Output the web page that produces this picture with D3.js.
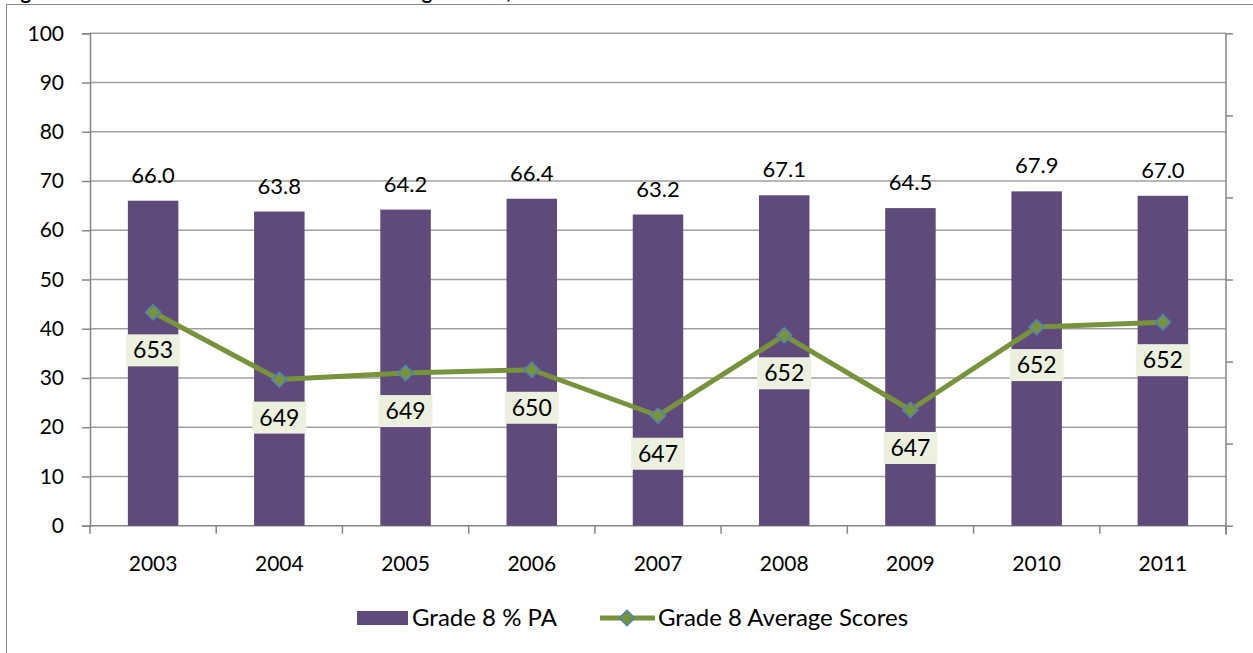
<!DOCTYPE html>
<html>
<head>
<meta charset="utf-8">
<script src="https://cdn.jsdelivr.net/npm/d3@7"></script>
<style>
  body { margin: 0; background: #fff; }
  svg { display: block; font-family: Lato, "Open Sans", sans-serif; }
</style>
</head>
<body>
<svg></svg>
<script>
var years = ["2003","2004","2005","2006","2007","2008","2009","2010","2011"];
var pctPA = [66.0, 63.8, 64.2, 66.4, 63.2, 67.1, 64.5, 67.9, 67.0];
var avgScores = [653.0, 648.9, 649.3, 649.5, 646.7, 651.6, 647.05, 652.1, 652.4];
var leftTicks = [0,10,20,30,40,50,60,70,80,90,100];
var rightTicks = [640,645,650,655,660,665,670];
var seriesNames = ["Grade 8 % PA", "Grade 8 Average Scores"];

start();

function start(){
  var width = 1253;
  var height = 653;

  var svg = d3.select("svg")
              .attr("width", width)
              .attr("height", height);

  var left = 90, right = 1226, top = 33.3, bottom = 525.7;

  // outer frame, partly off the picture
  svg.append("rect")
     .attr("x", 6.5).attr("y", 4.5)
     .attr("width", 1400).attr("height", 800)
     .attr("fill", "none")
     .attr("stroke", "#868686");

  // title, only its lowest strip shows above the frame
  svg.append("text")
     .attr("x", 4).attr("y", -1)
     .attr("font-weight", "bold")
     .attr("font-size", 20)
     .attr("fill", "#000")
     .text("Figure 9: Grade 8 Mathematics % PA and Average Scores, 2003-2011");

  var x = d3.scaleBand()
            .domain(years)
            .range([left, right])
            .paddingInner(0.6)
            .paddingOuter(0.3);

  var y = d3.scaleLinear().domain([0,100]).range([bottom, top]);
  var y2 = d3.scaleLinear().domain([640,670]).range([bottom, top]);

  // gridlines
  svg.append("g").selectAll("line")
     .data(leftTicks.slice(1))
     .enter()
     .append("line")
     .attr("x1", left).attr("x2", right)
     .attr("y1", function(d){ return y(d); })
     .attr("y2", function(d){ return y(d); })
     .attr("stroke", "#a0a0a0")
     .attr("stroke-width", 1.5);

  // left axis
  var yAxis = d3.axisLeft(y).tickValues(leftTicks).tickSize(8).tickPadding(18);
  var gy = svg.append("g").attr("transform", "translate(" + left + ",0)").call(yAxis);
  gy.selectAll("line,path").attr("stroke", "#868686").attr("stroke-width", 1.5);
  gy.selectAll("text").attr("font-size", 21).attr("fill", "#000").attr("font-family", "Lato");

  // right axis, ticks only
  var yAxis2 = d3.axisRight(y2).tickValues(rightTicks).tickSize(7).tickFormat("");
  var gy2 = svg.append("g").attr("transform", "translate(" + right + ",0)").call(yAxis2);
  gy2.selectAll("line,path").attr("stroke", "#868686").attr("stroke-width", 1.5);
  gy2.select("path").attr("d", "M0," + top + "V" + (bottom + 9));

  // x axis with boundary ticks
  var gx = svg.append("g");
  gx.append("line")
    .attr("x1", left).attr("x2", right)
    .attr("y1", bottom).attr("y2", bottom)
    .attr("stroke", "#868686").attr("stroke-width", 1.5);
  var bounds = years.map(function(d){ return x(d) - x.step()*0.3; });
  bounds.push(right);
  gx.selectAll("line.tk")
    .data(bounds)
    .enter()
    .append("line")
    .attr("class", "tk")
    .attr("x1", function(d){ return d; })
    .attr("x2", function(d){ return d; })
    .attr("y1", bottom).attr("y2", bottom + 8)
    .attr("stroke", "#868686").attr("stroke-width", 1.5);
  gx.selectAll("text")
    .data(years)
    .enter()
    .append("text")
    .attr("x", function(d){ return x(d) + x.bandwidth()/2; })
    .attr("y", bottom + 45)
    .attr("text-anchor", "middle")
    .attr("font-size", 21)
    .text(function(d){ return d; });

  // bars
  svg.append("g").selectAll("rect")
     .data(pctPA)
     .enter()
     .append("rect")
     .attr("x", function(d,i){ return x(years[i]); })
     .attr("y", function(d){ return y(d); })
     .attr("width", x.bandwidth())
     .attr("height", function(d){ return bottom - y(d); })
     .attr("fill", "#604A7B");

  svg.append("g").selectAll("text")
     .data(pctPA)
     .enter()
     .append("text")
     .attr("x", function(d,i){ return x(years[i]) + x.bandwidth()/2; })
     .attr("y", function(d){ return y(d) - 18; })
     .attr("text-anchor", "middle")
     .attr("font-size", 22)
     .text(function(d){ return d.toFixed(1); });

  // line
  var cx = function(d,i){ return x(years[i]) + x.bandwidth()/2; };
  var line = d3.line()
               .x(cx)
               .y(function(d){ return y2(d); });

  svg.append("path")
     .datum(avgScores)
     .attr("d", line)
     .attr("fill", "none")
     .attr("stroke", "#77933C")
     .attr("stroke-width", 5)
     .attr("stroke-linejoin", "round");

  var diamond = d3.symbol().type(d3.symbolDiamond2).size(150);
  svg.append("g").selectAll("path")
     .data(avgScores)
     .enter()
     .append("path")
     .attr("d", diamond)
     .attr("transform", function(d,i){ return "translate(" + cx(d,i) + "," + y2(d) + ")"; })
     .attr("fill", "#77933C")
     .attr("stroke", "#4F81BD")
     .attr("stroke-width", 1.5);

  // line labels with boxes
  var lab = svg.append("g").selectAll("g")
               .data(avgScores)
               .enter()
               .append("g")
               .attr("transform", function(d,i){ return "translate(" + cx(d,i) + "," + (y2(d) + 38) + ")"; });
  lab.append("rect")
     .attr("x", -27).attr("y", -16)
     .attr("width", 54).attr("height", 32)
     .attr("fill", "#EBF1DE");
  lab.append("text")
     .attr("y", 8)
     .attr("text-anchor", "middle")
     .attr("font-size", 23)
     .text(function(d){ return Math.round(d); });

  // legend
  var leg = svg.append("g");
  leg.append("rect")
     .attr("x", 357).attr("y", 611)
     .attr("width", 51).attr("height", 14)
     .attr("fill", "#604A7B");
  leg.append("text")
     .attr("x", 412).attr("y", 626)
     .attr("font-size", 24)
     .text(seriesNames[0]);
  leg.append("line")
     .attr("x1", 600).attr("x2", 655)
     .attr("y1", 618).attr("y2", 618)
     .attr("stroke", "#77933C").attr("stroke-width", 5);
  leg.append("path")
     .attr("d", diamond)
     .attr("transform", "translate(627,618)")
     .attr("fill", "#77933C")
     .attr("stroke", "#4F81BD")
     .attr("stroke-width", 1.5);
  leg.append("text")
     .attr("x", 658).attr("y", 626)
     .attr("font-size", 24)
     .text(seriesNames[1]);
}
</script>
</body>
</html>
